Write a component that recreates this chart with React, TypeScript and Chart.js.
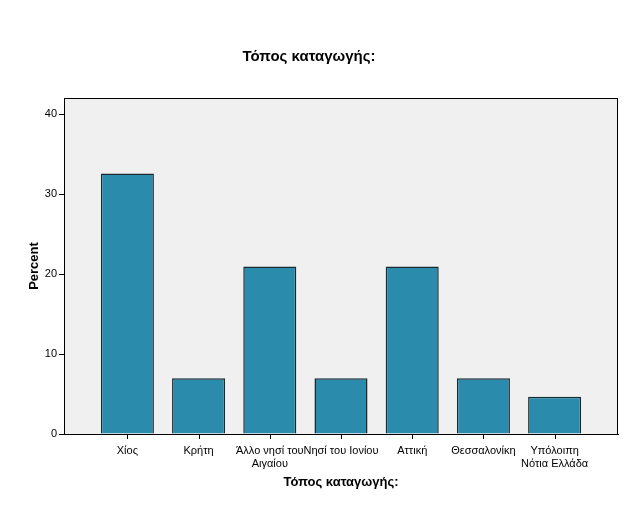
import React, { useEffect, useRef } from "react";
import { Chart, registerables } from "chart.js";

Chart.register(...registerables);

const categories: (string | string[])[] = [
  "Χίος",
  "Κρήτη",
  ["Άλλο νησί του", "Αιγαίου"],
  "Νησί του Ιονίου",
  "Αττική",
  "Θεσσαλονίκη",
  ["Υπόλοιπη", "Νότια Ελλάδα"],
];
const percents = [32.56, 6.98, 20.93, 6.98, 20.93, 6.98, 4.65];
const yTicks = [0, 10, 20, 30, 40];

const FONT = "'Liberation Sans', Arial, sans-serif";

const plotFrame = {
  id: "plotFrame",
  beforeDraw(chart: any) {
    const { ctx, chartArea: a } = chart;
    ctx.save();
    ctx.fillStyle = "#f0f0f0";
    ctx.fillRect(a.left, a.top, a.right - a.left, a.bottom - a.top);
    ctx.restore();
  },
  afterDraw(chart: any) {
    const { ctx, chartArea: a } = chart;
    const xs = chart.scales.x;
    ctx.save();
    ctx.strokeStyle = "#000";
    ctx.lineWidth = 1;
    ctx.strokeRect(a.left + 0.5, a.top + 0.5, a.right - a.left - 1, a.bottom - a.top);
    ctx.fillStyle = "#000";
    for (let i = 0; i < categories.length; i++) {
      const px = Math.round(xs.getPixelForValue(i));
      ctx.fillRect(px, Math.round(a.bottom), 1, 5);
    }
    ctx.restore();
  },
};

export default function App() {
  const ref = useRef<HTMLCanvasElement>(null);
  useEffect(() => {
    if (!ref.current) return;
    const chart = new Chart(ref.current, {
      type: "bar",
      data: {
        datasets: [
          {
            data: percents.map((v, i) => ({ x: i, y: v })),
            backgroundColor: "#2a8bac",
            borderColor: "#1a2a30",
            borderWidth: 1.5,
            inflateAmount: 0,
            barPercentage: 0.745,
            categoryPercentage: 1,
          },
        ],
      },
      options: {
        animation: false,
        responsive: false,
        layout: { padding: { left: 0, right: 13, top: 0, bottom: 0 } },
        plugins: {
          legend: { display: false },
          tooltip: { enabled: false },
          title: {
            display: true,
            text: "Τόπος καταγωγής:",
            color: "#000",
            font: { family: FONT, size: 15, weight: "bold", lineHeight: 1.2 },
            padding: { top: 48, bottom: 32 },
          },
        },
        scales: {
          x: {
            type: "linear",
            min: -0.89,
            max: 6.89,
            offset: false,
            afterFit(scale: any) {
              scale.height = 72;
            },
            afterBuildTicks(scale: any) {
              scale.ticks = categories.map((_, i) => ({ value: i }));
            },
            grid: {
              display: false,
            },
            border: { display: true, color: "#000" },
            ticks: {
              color: "#000",
              font: { family: FONT, size: 11 },
              maxRotation: 0,
              autoSkip: false,
              padding: 2,
              callback: (v: any) => categories[Math.round(Number(v))] as any,
            },
            title: {
              display: true,
              text: "Τόπος καταγωγής:",
              color: "#000",
              font: { family: FONT, size: 13, weight: "bold", lineHeight: 1.2 },
              padding: { top: 0, bottom: 16 },
            },
          },
          y: {
            min: 0,
            max: 42,
            afterFit(scale: any) {
              scale.width = 64;
            },
            afterBuildTicks(scale: any) {
              scale.ticks = yTicks.map((v) => ({ value: v }));
            },
            grid: {
              display: true,
              drawOnChartArea: false,
              drawTicks: true,
              tickLength: 5,
              color: "#000",
            },
            border: { display: true, color: "#000" },
            ticks: {
              color: "#000",
              font: { family: FONT, size: 11 },
              padding: 2,
            },
            title: {
              display: true,
              text: "Percent",
              color: "#000",
              font: { family: FONT, size: 13, weight: "bold", lineHeight: 1.2 },
              padding: { top: 27, bottom: 0 },
            },
          },
        },
      },
      plugins: [plotFrame],
    });
    return () => chart.destroy();
  }, []);
  return (
    <div style={{ position: "absolute", left: 0, top: 0, width: 631, height: 506, background: "#fff" }}>
      <canvas ref={ref} width={631} height={506} style={{ width: 631, height: 506 }} />
    </div>
  );
}
